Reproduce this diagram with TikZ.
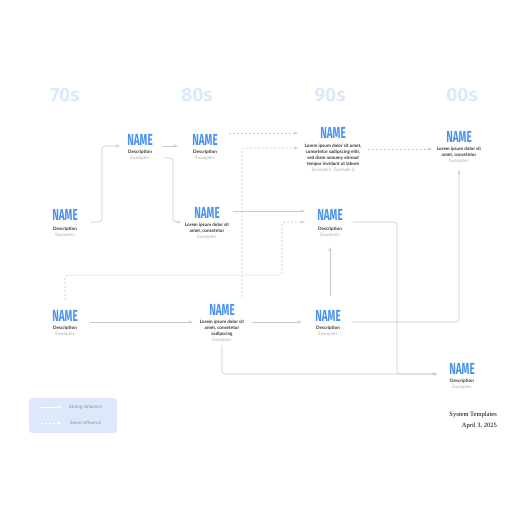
\documentclass[tikz,border=0pt]{standalone}
\usepackage{fontspec}
\setmainfont{Lato}
\newfontfamily\namefont[FakeStretch=0.62]{Fira Sans}
\newfontfamily\headfont{Fira Sans}
\newfontfamily\footfont{Liberation Serif}
\usetikzlibrary{arrows.meta,calc}
\definecolor{nameblue}{HTML}{4A92EE}
\definecolor{headblue}{HTML}{DCE9FB}
\definecolor{darktext}{HTML}{333333}
\definecolor{exgray}{HTML}{AAAAAA}
\definecolor{linegray}{HTML}{C8C8C8}
\definecolor{legendbg}{HTML}{DDE9FB}
\definecolor{legendtext}{HTML}{8C8C8C}
\tikzset{
  namebox/.style={font=\namefont\bfseries\fontsize{16}{16}\selectfont, text=nameblue, inner sep=0pt},
  info/.style={anchor=north, align=center, font=\fontsize{4.6}{6}\selectfont, inner sep=0pt, text=darktext},
  header/.style={font=\headfont\bfseries\fontsize{19}{19}\selectfont, text=headblue, inner sep=0pt},
  strong/.style={draw=linegray, line width=0.6pt, rounded corners=3pt, -{Triangle[open,length=4pt,width=3pt]}},
  some/.style={draw=linegray, line width=0.6pt, dash pattern=on 2pt off 2pt, rounded corners=3pt, -{Triangle[open,length=4pt,width=3pt]}},
  foot/.style={font=\footfont\fontsize{6.5}{8}\selectfont, anchor=east, inner sep=0pt, text=black},
}
\newcommand{\bl}[1]{\textbf{#1}}
\newcommand{\ex}[1]{\textcolor{exgray}{#1}}
\begin{document}
\begin{tikzpicture}[x=1pt,y=-1pt]
\useasboundingbox (0,0) rectangle (516,516);
% headers
\node[header] (h70) at (65,95) {70s};
\node[header] (h80) at (197,95) {80s};
\node[header] (h90) at (330,95) {90s};
\node[header] (h00) at (462,95) {00s};
% nodes
\node[namebox] (A) at (65,215) {NAME};
\node[info] (At) at (65,226.5) {\bl{Description}\\\ex{Examples}};
\node[namebox] (B) at (140,140) {NAME};
\node[info] (Bt) at (140,149.5) {\bl{Description}\\\ex{Examples}};
\node[namebox] (C) at (205,140) {NAME};
\node[info] (Ct) at (205,149.5) {\bl{Description}\\\ex{Examples}};
\node[namebox] (D) at (207,213) {NAME};
\node[info] (Dt) at (207,222.5) {\bl{Lorem ipsum dolor sit}\\\bl{amet, consetetur}\\\ex{Examples}};
\node[namebox] (E) at (333,133) {NAME};
\node[info] (Et) at (333,143.5) {\bl{Lorem ipsum dolor sit amet,}\\\bl{consetetur sadipscing elitr,}\\\bl{sed diam nonumy eirmod}\\\bl{tempor invidunt ut labore}\\\ex{Example1, Example 2}};
\node[namebox] (F) at (459,137) {NAME};
\node[info] (Ft) at (459,146.5) {\bl{Lorem ipsum dolor sit}\\\bl{amet, consetetur}\\\ex{Examples}};
\node[namebox] (G) at (330,215) {NAME};
\node[info] (Gt) at (330,226.5) {\bl{Description}\\\ex{Examples}};
\node[namebox] (H) at (65,316) {NAME};
\node[info] (Ht) at (65,325.5) {\bl{Description}\\\ex{Examples}};
\node[namebox] (I) at (222,310) {NAME};
\node[info] (It) at (222,319.5) {\bl{Lorem ipsum dolor sit}\\\bl{amet, consetetur}\\\bl{sadipscing}\\\ex{Examples}};
\node[namebox] (J) at (328,316) {NAME};
\node[info] (Jt) at (328,325.5) {\bl{Description}\\\ex{Examples}};
\node[namebox] (K) at (462,369) {NAME};
\node[info] (Kt) at (462,378.5) {\bl{Description}\\\ex{Examples}};
% connectors
\draw[strong] ($(A)+(25,7)$) -- ++(12,0) |- ($(B)+(-20,6)$);
\draw[strong] ($(B)+(23,6)$) -- ($(C)+(-27,6)$);
\draw[strong] ($(B)+(24,18)$) -- ++(9,0) |- ($(D)+(-26,9)$);
\draw[some] ($(C)+(24,-7)$) -- ($(E)+(-35,0)$);
\draw[some] ($(I)+(20,-13)$) |- ($(E)+(-35,15)$);
\draw[strong] ($(D)+(26,-2)$) -- ($(G)+(-25,-4)$);
\draw[some] ($(H)+(0,-16)$) |- ($(G)+(-48,60)$) |- ($(G)+(-25,7)$);
\draw[strong] ($(H)+(25,6)$) -- ($(I)+(-29,12)$);
\draw[strong] ($(I)+(30,12)$) -- ($(J)+(-26,6)$);
\draw[strong] ($(J)+(2,-20)$) -- ($(G)+(0,32)$);
\draw[strong] ($(J)+(24,6)$) -| ($(F)+(0,33)$);
\draw[strong] ($(G)+(23,7)$) -- ++(44,0) |- ($(K)+(-25,5)$);
\draw[strong] ($(I)+(0,35)$) |- ($(K)+(-25,5)$);
\draw[some] ($(E)+(35,16)$) -- ($(F)+(-27,12)$);
% legend
\node[fill=legendbg, rounded corners=3pt, minimum width=88pt, minimum height=35pt, inner sep=0pt] (leg) at (73,415.5) {};
\coordinate (l1a) at (41,407);
\coordinate (l1b) at (62,407);
\coordinate (l2a) at (41,423);
\coordinate (l2b) at (62,423);
\draw[white, line width=0.6pt, -{Triangle[length=4pt,width=3pt]}] (l1a) -- (l1b);
\draw[white, line width=0.6pt, dash pattern=on 2pt off 2pt, -{Triangle[length=4pt,width=3pt]}] (l2a) -- (l2b);
\node[font=\fontsize{4.6}{5}\selectfont, text=legendtext, anchor=west, inner sep=0pt] (lt1) at (69,407) {Strong influence};
\node[font=\fontsize{4.6}{5}\selectfont, text=legendtext, anchor=west, inner sep=0pt] (lt2) at (70,423) {Some influence};
% footer
\node[foot] (f1) at (497,415) {System Templates};
\node[foot] (f2) at (497,426) {April 3, 2025};
\end{tikzpicture}
\end{document}
